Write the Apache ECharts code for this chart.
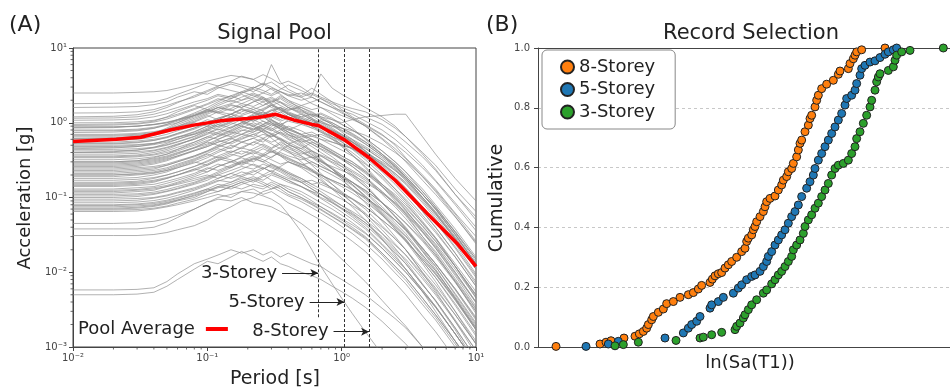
<!DOCTYPE html>
<html><head><meta charset="utf-8">
<script src="https://cdn.jsdelivr.net/npm/echarts@6/dist/echarts.min.js"></script>
<style>html,body{margin:0;padding:0;background:#fff}#c{width:950px;height:391px}</style>
</head><body><div id="c"></div>
<script>
// ---------------- DATA ----------------
// Panel A: response spectra of the signal pool (period [s] -> Sa [g])
const periods = [0.01,0.02,0.03,0.04,0.05,0.06,0.08,0.1,0.12,0.15,0.18,0.22,0.26,0.3,0.35,0.4,0.5,0.6,0.7,0.85,1.0,1.2,1.5,2.0,2.5,3.0,4.0,5.0,7.0,10.0];
const poolSpectra = [
[2.5,2.5,2.55,2.6,2.7,2.9,3.3,3.6,3.9,4.3, 4.1,3.8,4.4,3.9,3.3,3.6,3.0,2.4,2.1,1.7, 1.4,1.15,0.9,0.6,0.42,0.3,0.17,0.11,0.055,0.025],
[1.8,1.82,1.85,1.9,2.1,2.4,2.9,3.4,3.1,3.6, 4.2,3.8,3.2,3.5,2.9,2.6,2.2,1.8,1.6,1.3, 1.1,0.85,0.6,0.38,0.26,0.18,0.1,0.062,0.028,0.011],
[1.6,1.62,1.65,1.75,1.9,2.2,2.6,2.4,2.9,3.3, 3.0,2.6,3.1,6.0,3.5,2.8,2.3,2.9,2.4,1.9, 1.5,1.2,0.95,0.7,0.5,0.34,0.2,0.13,0.062,0.03],
[1.35,1.36,1.4,1.5,1.7,1.9,2.2,2.6,3.0,2.7, 2.5,2.9,3.4,3.0,2.6,2.3,2.5,2.2,1.9,1.6, 1.45,1.3,1.05,0.8,0.6,0.45,0.27,0.17,0.085,0.04],
[1.15,1.16,1.2,1.3,1.45,1.6,1.9,2.1,2.4,2.2, 2.6,3.0,2.7,2.4,2.8,3.2,2.7,2.3,4.5,2.9, 2.4,2.0,1.6,1.2,0.9,0.65,0.38,0.24,0.11,0.05],
[1.0,1.0,1.03,1.08,1.18,1.3,1.55,1.8,2.1,1.9, 2.2,2.5,2.2,1.9,2.1,1.8,1.5,1.3,1.15,0.95, 0.75,0.6,0.42,0.26,0.17,0.12,0.065,0.04,0.018,0.0075],
[0.95,0.96,0.98,1.05,1.2,1.4,1.7,1.5,1.8,2.1, 2.4,2.0,1.7,1.9,2.3,2.0,1.7,1.9,2.1,1.8, 1.6,1.4,1.2,0.95,0.72,0.55,0.35,0.23,0.11,0.055],
[0.85,0.86,0.9,0.95,1.0,1.1,1.3,1.5,1.4,1.7, 1.6,1.9,2.2,1.8,1.5,1.3,1.1,0.9,0.75,0.6, 0.48,0.37,0.26,0.15,0.1,0.068,0.035,0.021,0.009,0.0035],
[0.78,0.78,0.8,0.85,0.92,1.0,1.2,1.4,1.6,1.5, 1.3,1.5,1.7,2.0,1.7,1.5,1.6,1.4,1.2,1.1, 0.95,0.8,0.62,0.42,0.3,0.22,0.13,0.08,0.038,0.016],
[0.7,0.7,0.72,0.76,0.82,0.9,1.05,1.25,1.1,1.3, 1.55,1.4,1.2,1.35,1.6,1.3,1.05,0.95,1.1,1.0, 0.85,0.7,0.55,0.38,0.27,0.19,0.11,0.07,0.032,0.013],
[0.62,0.62,0.64,0.68,0.75,0.85,1.0,0.9,1.1,1.3, 1.2,1.05,1.2,1.0,0.85,0.75,0.62,0.52,0.44,0.35, 0.28,0.21,0.15,0.085,0.055,0.038,0.019,0.011,0.0045,0.0017],
[0.55,0.55,0.57,0.6,0.65,0.72,0.85,1.0,1.15,1.3, 1.1,1.25,1.4,1.2,1.05,1.15,1.3,1.1,0.95,0.8, 0.7,0.6,0.48,0.34,0.25,0.18,0.1,0.065,0.03,0.013],
[0.5,0.5,0.51,0.53,0.57,0.63,0.75,0.9,0.8,0.95, 1.1,1.25,1.05,0.9,1.0,0.85,0.7,0.6,0.52,0.42, 0.36,0.3,0.22,0.14,0.095,0.067,0.037,0.023,0.01,0.004],
[0.45,0.46,0.48,0.52,0.58,0.65,0.7,0.8,0.95,0.85, 1.0,1.2,1.4,1.25,1.1,1.3,1.15,1.0,0.88,0.75, 0.65,0.55,0.45,0.32,0.24,0.17,0.095,0.06,0.028,0.011],
[0.4,0.4,0.41,0.43,0.47,0.52,0.6,0.7,0.82,0.75, 0.9,0.8,0.95,0.85,0.72,0.65,0.55,0.6,0.5,0.4, 0.33,0.26,0.19,0.11,0.075,0.052,0.028,0.017,0.0075,0.003],
[0.36,0.36,0.37,0.4,0.44,0.5,0.62,0.75,0.68,0.8, 0.95,1.1,0.95,1.05,0.9,0.8,0.95,0.85,0.75,0.65, 0.58,0.5,0.4,0.28,0.2,0.15,0.085,0.052,0.024,0.0095],
[0.32,0.32,0.33,0.35,0.38,0.42,0.5,0.58,0.65,0.75, 0.7,0.85,0.75,0.65,0.75,0.62,0.5,0.42,0.36,0.29, 0.24,0.19,0.14,0.085,0.057,0.04,0.021,0.013,0.0058,0.0023],
[0.28,0.28,0.29,0.31,0.34,0.38,0.46,0.55,0.5,0.6, 0.7,0.65,0.8,0.95,0.85,0.75,0.65,0.7,0.6,0.5, 0.43,0.36,0.28,0.19,0.13,0.095,0.054,0.034,0.016,0.0065],
[0.25,0.25,0.26,0.28,0.31,0.35,0.42,0.48,0.55,0.62, 0.55,0.5,0.6,0.52,0.45,0.4,0.34,0.28,0.24,0.2, 0.17,0.13,0.095,0.058,0.038,0.027,0.014,0.0085,0.0038,0.0015],
[0.22,0.22,0.23,0.24,0.27,0.3,0.36,0.42,0.5,0.45, 0.55,0.62,0.55,0.68,0.6,0.52,0.6,0.52,0.45,0.38, 0.33,0.28,0.22,0.15,0.11,0.08,0.046,0.029,0.013,0.0055],
[0.2,0.2,0.21,0.22,0.24,0.27,0.32,0.38,0.34,0.4, 0.46,0.42,0.48,0.42,0.36,0.3,0.25,0.2,0.17,0.13, 0.11,0.085,0.062,0.037,0.024,0.017,0.0088,0.0053,0.0023,0.0009],
[0.18,0.18,0.185,0.2,0.22,0.25,0.3,0.27,0.32,0.38, 0.35,0.42,0.38,0.45,0.52,0.45,0.38,0.42,0.37,0.32, 0.28,0.23,0.18,0.12,0.085,0.062,0.035,0.022,0.01,0.004],
[0.16,0.16,0.165,0.18,0.2,0.22,0.26,0.3,0.35,0.32, 0.28,0.33,0.3,0.26,0.23,0.2,0.16,0.13,0.11,0.085, 0.07,0.055,0.04,0.024,0.016,0.011,0.0058,0.0035,0.0015,0.0006],
[0.145,0.145,0.15,0.16,0.18,0.2,0.24,0.22,0.26,0.3, 0.34,0.3,0.36,0.32,0.28,0.3,0.26,0.22,0.2,0.17, 0.15,0.125,0.1,0.068,0.05,0.037,0.021,0.013,0.006,0.0024],
[0.13,0.13,0.135,0.14,0.155,0.17,0.2,0.24,0.28,0.25, 0.3,0.27,0.24,0.28,0.25,0.22,0.18,0.15,0.13,0.11, 0.095,0.078,0.06,0.04,0.028,0.02,0.011,0.0068,0.003,0.0012],
[0.115,0.115,0.12,0.125,0.14,0.155,0.18,0.2,0.18,0.21, 0.24,0.28,0.25,0.22,0.26,0.3,0.26,0.23,0.2,0.17, 0.15,0.13,0.1,0.07,0.05,0.037,0.021,0.013,0.006,0.0025],
[0.1,0.1,0.103,0.11,0.12,0.13,0.15,0.17,0.2,0.18, 0.2,0.23,0.2,0.17,0.15,0.13,0.11,0.09,0.075,0.06, 0.05,0.04,0.03,0.018,0.012,0.0085,0.0045,0.0027,0.0012,0.0005],
[0.09,0.09,0.092,0.098,0.105,0.115,0.13,0.15,0.17,0.16, 0.19,0.17,0.2,0.23,0.2,0.18,0.16,0.17,0.15,0.13, 0.11,0.095,0.075,0.05,0.036,0.027,0.015,0.0095,0.0044,0.0018],
[0.08,0.08,0.082,0.086,0.092,0.1,0.115,0.13,0.12,0.14, 0.16,0.14,0.13,0.15,0.13,0.11,0.095,0.08,0.068,0.055, 0.046,0.037,0.028,0.017,0.011,0.0078,0.0041,0.0025,0.0011,0.00045],
[0.07,0.07,0.072,0.076,0.082,0.09,0.1,0.12,0.14,0.13, 0.15,0.17,0.15,0.13,0.14,0.12,0.1,0.085,0.075,0.062, 0.052,0.043,0.033,0.021,0.014,0.01,0.0055,0.0034,0.0015,0.0006],
[0.065,0.065,0.066,0.07,0.075,0.08,0.09,0.1,0.11,0.1, 0.12,0.13,0.11,0.12,0.1,0.085,0.07,0.058,0.05,0.04, 0.033,0.026,0.019,0.011,0.0072,0.005,0.0026,0.0016,0.0007,0.0003],
[0.038,0.038,0.038,0.04,0.046,0.054,0.07,0.085,0.1,0.11, 0.12,0.115,0.105,0.095,0.08,0.06,0.035,0.02,0.012,0.007, 0.0045,0.0028,0.0016,0.0008,0.0005,0.0003,0.00015,0.00008,0.00003,0.00001],
[0.031,0.031,0.031,0.032,0.034,0.037,0.042,0.05,0.062,0.075, 0.09,0.1,0.12,0.13,0.15,0.14,0.12,0.1,0.085,0.07, 0.058,0.046,0.034,0.021,0.014,0.01,0.0055,0.0034,0.0015,0.0006],
[0.0058,0.0058,0.0059,0.0062,0.0075,0.0095,0.013,0.015,0.017,0.02, 0.018,0.02,0.017,0.019,0.016,0.018,0.015,0.013,0.012,0.0095, 0.008,0.0065,0.005,0.0033,0.0024,0.0018,0.001,0.0006,0.0003,0.0001],
[0.005,0.005,0.0051,0.0054,0.0065,0.008,0.011,0.014,0.013,0.016, 0.019,0.016,0.014,0.016,0.013,0.012,0.01,0.009,0.008,0.0065, 0.0055,0.0045,0.0034,0.0022,0.0015,0.0011,0.0006,0.00035,0.00015,0.00006],
[0.3,0.3,0.31,0.33,0.36,0.4,0.46,0.52,0.6,0.7, 0.8,0.75,0.9,1.0,0.9,1.1,1.0,1.2,1.3,1.1, 1.0,1.1,1.2,1.25,1.3,1.3,0.65,0.38,0.18,0.09],
[0.6,0.61,0.65,0.72,0.85,1.0,1.25,1.5,1.35,1.2, 1.05,0.9,0.75,0.62,0.5,0.42,0.3,0.23,0.18,0.13, 0.1,0.075,0.05,0.028,0.017,0.011,0.0055,0.003,0.0012,0.0004],
[0.74,0.75,0.78,0.84,0.95,1.1,1.35,1.6,1.9,2.3, 2.0,2.4,2.1,1.7,1.9,1.6,1.3,1.1,0.9,0.7, 0.56,0.44,0.32,0.2,0.13,0.09,0.048,0.029,0.012,0.0045],
[0.42,0.42,0.43,0.46,0.5,0.55,0.65,0.78,0.9,1.05, 1.2,1.1,1.3,1.5,1.35,1.6,1.4,1.25,1.35,1.15, 0.95,0.8,0.62,0.42,0.3,0.22,0.12,0.075,0.034,0.014],
[0.3,0.3,0.31,0.34,0.38,0.44,0.55,0.65,0.6,0.72, 0.85,1.0,0.9,0.8,0.7,0.6,0.48,0.38,0.31,0.24, 0.19,0.15,0.105,0.062,0.04,0.028,0.014,0.0085,0.0036,0.0014],
[0.24,0.24,0.25,0.26,0.28,0.31,0.36,0.42,0.48,0.55, 0.65,0.75,0.85,0.78,0.9,0.8,0.7,0.75,0.65,0.55, 0.5,0.45,0.38,0.28,0.21,0.16,0.095,0.06,0.028,0.012],
[0.19,0.19,0.2,0.21,0.23,0.26,0.31,0.36,0.42,0.5, 0.45,0.55,0.62,0.7,0.6,0.52,0.42,0.34,0.28,0.22, 0.18,0.145,0.105,0.065,0.043,0.031,0.016,0.0098,0.0043,0.0017],
[0.15,0.15,0.155,0.165,0.18,0.2,0.23,0.27,0.31,0.36, 0.42,0.38,0.45,0.4,0.47,0.42,0.36,0.3,0.26,0.22, 0.19,0.16,0.125,0.085,0.062,0.046,0.027,0.017,0.0078,0.0032],
[0.12,0.12,0.125,0.13,0.14,0.15,0.17,0.19,0.22,0.26, 0.3,0.34,0.3,0.35,0.4,0.36,0.32,0.35,0.3,0.26, 0.23,0.2,0.16,0.115,0.085,0.064,0.038,0.024,0.011,0.0046],
[0.095,0.095,0.097,0.1,0.108,0.118,0.135,0.155,0.18,0.21, 0.19,0.22,0.25,0.22,0.19,0.17,0.14,0.115,0.097,0.078, 0.064,0.051,0.038,0.023,0.015,0.011,0.0058,0.0035,0.0015,0.0006],
[0.075,0.075,0.077,0.08,0.086,0.093,0.105,0.12,0.135,0.15, 0.17,0.19,0.17,0.2,0.18,0.16,0.14,0.12,0.1,0.085, 0.072,0.06,0.046,0.03,0.02,0.015,0.0082,0.005,0.0022,0.0009],
[0.068,0.068,0.069,0.072,0.077,0.084,0.095,0.11,0.12,0.14, 0.13,0.15,0.14,0.16,0.14,0.12,0.1,0.082,0.07,0.056, 0.047,0.038,0.029,0.018,0.012,0.0085,0.0045,0.0027,0.0012,0.0005],
[0.11,0.11,0.112,0.118,0.128,0.14,0.16,0.185,0.21,0.25, 0.29,0.33,0.38,0.34,0.42,0.5,0.45,0.55,0.48,0.4, 0.34,0.28,0.21,0.14,0.1,0.072,0.041,0.026,0.012,0.0048],
[0.87,0.88,0.9,0.95,1.02,1.1,1.25,1.4,1.6,1.8, 2.0,2.2,2.5,2.3,2.6,2.4,2.2,2.5,2.2,1.9, 1.7,1.55,1.4,1.1,0.85,0.65,0.4,0.27,0.13,0.065],
[1.2,1.22,1.28,1.4,1.6,1.85,2.3,2.7,3.1,3.5, 3.2,2.9,3.3,2.8,2.4,2.0,1.5,1.15,0.9,0.65, 0.5,0.37,0.25,0.14,0.09,0.06,0.03,0.018,0.0075,0.0028],
[0.52,0.52,0.54,0.58,0.64,0.72,0.85,1.0,1.15,1.3, 1.5,1.35,1.2,1.0,0.82,0.7,0.52,0.4,0.32,0.24, 0.19,0.15,0.1,0.06,0.038,0.026,0.013,0.0075,0.003,0.0011],
[0.045,0.045,0.046,0.048,0.052,0.058,0.07,0.085,0.095,0.09, 0.1,0.085,0.08,0.075,0.065,0.058,0.045,0.035,0.028,0.02, 0.015,0.011,0.0075,0.0042,0.0027,0.0019,0.001,0.0006,0.00025,0.0001],
[0.88,0.88,0.9,0.94,1.0,1.08,1.25,1.45,1.7,2.0, 1.8,2.1,1.9,1.6,1.45,1.3,1.1,0.95,0.8,0.65, 0.55,0.45,0.34,0.22,0.15,0.105,0.058,0.036,0.016,0.0065],
[0.66,0.66,0.68,0.72,0.8,0.9,1.1,1.3,1.5,1.75, 1.6,1.9,2.1,1.8,2.2,1.9,1.6,1.35,1.2,1.0, 0.85,0.72,0.56,0.38,0.28,0.2,0.12,0.075,0.035,0.015],
[0.58,0.58,0.6,0.64,0.7,0.78,0.92,1.1,1.0,1.2, 1.4,1.6,1.45,1.7,1.5,1.3,1.05,0.9,0.78,0.62, 0.5,0.4,0.29,0.18,0.12,0.085,0.045,0.028,0.012,0.005],
[0.48,0.48,0.5,0.53,0.58,0.64,0.76,0.9,1.05,1.2, 1.1,1.3,1.5,1.7,1.5,1.35,1.2,1.3,1.15,0.95, 0.8,0.68,0.52,0.36,0.26,0.19,0.11,0.07,0.032,0.013],
[0.44,0.44,0.45,0.47,0.51,0.56,0.66,0.8,0.72,0.85, 1.0,0.9,1.05,0.95,0.82,0.7,0.58,0.48,0.4,0.32, 0.26,0.2,0.14,0.085,0.056,0.039,0.02,0.012,0.005,0.002],
[0.38,0.38,0.39,0.42,0.46,0.51,0.6,0.72,0.85,1.0, 0.9,1.15,1.3,1.15,1.4,1.2,1.0,0.85,0.9,0.78, 0.66,0.55,0.42,0.29,0.21,0.155,0.09,0.056,0.026,0.011],
[0.34,0.34,0.35,0.37,0.4,0.44,0.52,0.62,0.72,0.65, 0.78,0.9,0.8,0.72,0.62,0.55,0.45,0.37,0.31,0.25, 0.2,0.16,0.115,0.07,0.046,0.033,0.017,0.0105,0.0045,0.0018],
[0.29,0.29,0.3,0.32,0.35,0.39,0.47,0.56,0.66,0.78, 0.9,0.82,0.95,1.1,0.95,0.85,0.7,0.6,0.52,0.43, 0.36,0.3,0.23,0.15,0.105,0.075,0.042,0.026,0.012,0.005],
[0.26,0.26,0.27,0.29,0.32,0.36,0.43,0.5,0.58,0.52, 0.6,0.7,0.62,0.55,0.62,0.52,0.42,0.35,0.3,0.24, 0.2,0.16,0.12,0.075,0.05,0.036,0.019,0.012,0.0052,0.0021],
[0.23,0.23,0.24,0.25,0.27,0.3,0.35,0.41,0.47,0.55, 0.62,0.7,0.78,0.7,0.8,0.9,0.78,0.66,0.7,0.6, 0.52,0.45,0.36,0.25,0.18,0.13,0.075,0.047,0.022,0.009],
[0.21,0.21,0.22,0.23,0.25,0.28,0.33,0.39,0.45,0.4, 0.47,0.55,0.5,0.44,0.38,0.34,0.28,0.23,0.19,0.15, 0.12,0.095,0.07,0.042,0.028,0.02,0.01,0.0062,0.0027,0.0011],
[0.17,0.17,0.175,0.185,0.2,0.22,0.26,0.31,0.36,0.42, 0.38,0.45,0.52,0.46,0.55,0.48,0.4,0.34,0.36,0.3, 0.26,0.22,0.17,0.115,0.082,0.06,0.034,0.021,0.0095,0.0039],
[0.14,0.14,0.145,0.15,0.165,0.18,0.21,0.25,0.23,0.27, 0.31,0.36,0.32,0.28,0.24,0.21,0.17,0.14,0.12,0.095, 0.078,0.062,0.046,0.028,0.019,0.013,0.0068,0.0042,0.0018,0.0007],
[0.125,0.125,0.128,0.135,0.145,0.16,0.19,0.22,0.26,0.3, 0.27,0.32,0.36,0.41,0.36,0.32,0.27,0.3,0.26,0.22, 0.19,0.16,0.125,0.085,0.062,0.045,0.026,0.016,0.0073,0.003],
[0.105,0.105,0.108,0.113,0.122,0.133,0.155,0.18,0.2,0.23, 0.26,0.24,0.28,0.25,0.22,0.19,0.16,0.13,0.11,0.088, 0.072,0.058,0.043,0.027,0.018,0.013,0.0068,0.0042,0.0018,0.0007],
[0.085,0.085,0.087,0.091,0.098,0.107,0.125,0.145,0.165,0.19, 0.22,0.2,0.24,0.27,0.24,0.21,0.18,0.15,0.16,0.135, 0.115,0.097,0.075,0.05,0.036,0.026,0.015,0.0093,0.0042,0.0017],
[0.078,0.078,0.08,0.083,0.089,0.097,0.112,0.13,0.15,0.14, 0.16,0.18,0.16,0.14,0.12,0.105,0.088,0.073,0.062,0.05, 0.041,0.033,0.024,0.015,0.0098,0.007,0.0037,0.0023,0.001,0.0004],
[0.072,0.072,0.074,0.078,0.084,0.092,0.108,0.125,0.14,0.16, 0.18,0.16,0.19,0.21,0.19,0.17,0.14,0.12,0.11,0.092, 0.078,0.065,0.05,0.033,0.023,0.017,0.0095,0.0059,0.0027,0.0011],
[0.92,0.93,0.96,1.02,1.12,1.25,1.5,1.75,2.0,2.3, 2.6,2.3,2.0,2.2,1.9,1.7,1.45,1.25,1.05,0.85, 0.7,0.55,0.4,0.25,0.17,0.12,0.065,0.04,0.018,0.007],
[1.08,1.09,1.12,1.2,1.32,1.48,1.75,2.0,2.3,2.1, 2.5,2.8,2.5,2.9,2.6,2.3,2.0,2.2,1.9,1.6, 1.35,1.15,0.9,0.62,0.45,0.33,0.19,0.12,0.056,0.024],
[0.8,0.8,0.82,0.87,0.95,1.05,1.25,1.45,1.35,1.55, 1.8,1.65,1.9,2.1,1.85,1.6,1.35,1.15,1.0,0.82, 0.68,0.56,0.42,0.27,0.19,0.135,0.075,0.047,0.021,0.0085],
[0.68,0.68,0.7,0.74,0.8,0.88,1.02,1.2,1.4,1.3, 1.5,1.35,1.55,1.75,1.55,1.35,1.15,0.98,1.05,0.9, 0.78,0.66,0.52,0.36,0.26,0.19,0.11,0.07,0.032,0.013],
[0.53,0.53,0.55,0.58,0.63,0.7,0.82,0.97,0.88,1.02, 1.15,1.05,1.2,1.08,0.95,0.82,0.68,0.56,0.48,0.39, 0.32,0.26,0.19,0.12,0.08,0.057,0.03,0.019,0.0082,0.0033],
[0.47,0.47,0.48,0.51,0.55,0.6,0.7,0.82,0.95,1.1, 1.25,1.4,1.25,1.45,1.6,1.4,1.2,1.05,0.92,0.78, 0.68,0.58,0.46,0.32,0.23,0.17,0.1,0.063,0.029,0.012],
[0.27,0.27,0.28,0.3,0.33,0.36,0.42,0.48,0.55,0.63, 0.7,0.8,0.9,0.82,0.95,1.05,0.95,1.1,1.0,0.9, 0.85,0.78,0.68,0.52,0.4,0.31,0.19,0.125,0.06,0.026],
[0.35,0.35,0.36,0.38,0.42,0.47,0.55,0.65,0.75,0.88, 1.0,1.15,1.3,1.45,1.6,1.45,1.7,1.5,1.6,1.4, 1.25,1.1,0.92,0.68,0.52,0.4,0.25,0.165,0.08,0.036],
[0.62,0.63,0.66,0.72,0.82,0.95,1.15,1.35,1.6,1.45, 1.7,1.5,1.3,1.1,0.9,0.75,0.55,0.42,0.33,0.24, 0.18,0.13,0.085,0.048,0.03,0.02,0.0098,0.0056,0.0022,0.0008],
[0.2,0.2,0.205,0.215,0.23,0.25,0.29,0.34,0.4,0.47, 0.55,0.62,0.7,0.65,0.75,0.68,0.62,0.66,0.6,0.55, 0.5,0.46,0.4,0.3,0.23,0.18,0.11,0.072,0.035,0.015],
[0.155,0.155,0.16,0.17,0.185,0.2,0.24,0.28,0.33,0.3, 0.35,0.4,0.36,0.42,0.37,0.33,0.28,0.24,0.2,0.165, 0.14,0.115,0.088,0.058,0.041,0.03,0.017,0.0105,0.0047,0.0019],
[0.4,0.41,0.43,0.47,0.53,0.6,0.72,0.85,1.0,1.15, 1.05,0.95,0.82,0.7,0.58,0.48,0.36,0.27,0.21,0.15, 0.115,0.085,0.058,0.033,0.021,0.014,0.007,0.0041,0.0017,0.0006]
];
// Pool average spectrum
const avgPeriods = [0.01,0.021,0.032,0.053,0.079,0.125,0.2,0.26,0.32,0.44,0.6,0.67,1.05,1.6,2.5,4.3,7.2,10];
const avgAccel   = [0.56,0.6,0.64,0.8,0.93,1.06,1.14,1.2,1.3,1.09,0.95,0.92,0.59,0.34,0.17,0.062,0.0245,0.012];
// Fundamental periods of the buildings
const storeyNames = ['3-Storey','5-Storey','8-Storey'];
const storeyT1 = [0.67,1.05,1.6];

// Panel B: cumulative distributions of ln(Sa(T1))
const lnSa8 = [-3.86,-3.2,-3.11,-3.035,-2.84,-2.675,-2.61,-2.55,-2.5,-2.475,-2.425,-2.4,-2.325,-2.25,-2.2,-2.1,-2.0,-1.875,-1.8,-1.725,-1.675,-1.55,-1.515,-1.475,-1.425,-1.375,-1.325,-1.275,-1.225,-1.15,-1.075,-1.025,-1.0,-0.975,-0.925,-0.9,-0.875,-0.85,-0.8,-0.75,-0.725,-0.7,-0.65,-0.575,-0.525,-0.475,-0.45,-0.4,-0.375,-0.325,-0.3,-0.25,-0.225,-0.2,-0.175,-0.125,-0.075,-0.05,-0.025,0.025,0.05,0.075,0.125,0.2,0.3,0.375,0.4,0.525,0.55,0.6,0.625,0.65,0.725,1.075];
const cdf8  = [0.002,0.01,0.016,0.021,0.03,0.036,0.044,0.052,0.063,0.075,0.091,0.102,0.116,0.127,0.145,0.152,0.166,0.175,0.182,0.194,0.206,0.216,0.227,0.238,0.245,0.249,0.264,0.275,0.286,0.3,0.319,0.33,0.353,0.364,0.375,0.392,0.403,0.419,0.436,0.453,0.469,0.486,0.497,0.505,0.525,0.542,0.558,0.57,0.586,0.597,0.614,0.636,0.659,0.681,0.692,0.72,0.742,0.764,0.775,0.803,0.825,0.842,0.864,0.879,0.892,0.912,0.923,0.931,0.948,0.964,0.976,0.987,0.994,1.0];
const lnSa5 = [-3.41,-3.075,-2.925,-2.225,-1.95,-1.875,-1.825,-1.75,-1.7,-1.55,-1.525,-1.425,-1.35,-1.2,-1.125,-1.075,-1.0,-0.925,-0.875,-0.8,-0.75,-0.7,-0.675,-0.625,-0.575,-0.525,-0.475,-0.425,-0.375,-0.325,-0.275,-0.225,-0.175,-0.1,-0.05,0.0,0.025,0.075,0.125,0.175,0.225,0.275,0.325,0.375,0.425,0.475,0.5,0.575,0.625,0.65,0.7,0.725,0.775,0.85,0.925,1.0,1.075,1.125,1.2,1.25];
const cdf5  = [0.002,0.01,0.019,0.03,0.047,0.063,0.075,0.086,0.102,0.13,0.141,0.152,0.166,0.18,0.197,0.208,0.225,0.236,0.241,0.253,0.269,0.286,0.303,0.319,0.341,0.358,0.375,0.392,0.414,0.436,0.453,0.475,0.503,0.531,0.553,0.575,0.597,0.625,0.647,0.67,0.692,0.714,0.736,0.759,0.781,0.809,0.831,0.842,0.859,0.881,0.909,0.931,0.942,0.953,0.957,0.968,0.979,0.987,0.994,1.0];
const lnSa3 = [-2.975,-2.85,-2.625,-2.06,-1.7,-1.65,-1.525,-1.375,-1.175,-1.15,-1.1,-1.05,-1.025,-0.975,-0.925,-0.85,-0.75,-0.7,-0.625,-0.575,-0.525,-0.475,-0.425,-0.375,-0.325,-0.3,-0.25,-0.2,-0.15,-0.125,-0.075,-0.025,0.025,0.075,0.125,0.175,0.225,0.275,0.325,0.375,0.45,0.525,0.575,0.625,0.65,0.7,0.75,0.8,0.85,0.875,0.925,0.95,0.975,1.0,1.125,1.2,1.225,1.25,1.325,1.45,1.95];
const cdf3  = [0.004,0.008,0.016,0.022,0.03,0.033,0.041,0.049,0.058,0.069,0.08,0.097,0.108,0.125,0.141,0.158,0.18,0.191,0.211,0.225,0.241,0.253,0.269,0.286,0.303,0.325,0.341,0.358,0.38,0.403,0.425,0.442,0.464,0.481,0.503,0.525,0.547,0.575,0.597,0.608,0.614,0.625,0.647,0.67,0.697,0.72,0.748,0.775,0.803,0.825,0.859,0.887,0.903,0.914,0.925,0.937,0.959,0.976,0.987,0.992,1.0];

// ---------------- CHART ----------------
const FONT = 'DejaVu Sans';
const TXT = '#222';
const AX = '#444';
const SUP = {'-':'\u207B','0':'\u2070','1':'\u00B9','2':'\u00B2','3':'\u00B3'};
const pow10Label = v => '10' + String(Math.round(Math.log10(v))).split('').map(c => SUP[c]).join('');

const minorX = []; [0.01,0.1,1].forEach(d => { for (let k = 2; k <= 9; k++) minorX.push(d * k); });
const minorY = []; [0.001,0.01,0.1,1].forEach(d => { for (let k = 2; k <= 9; k++) minorY.push(d * k); });

// annotation placement (arrow start period, arrow height, dashed-line floor)
const arrowFromT = [0.36, 0.578, 0.87];
const arrowAt = [0.0098, 0.004, 0.0016];
const dashFloor = [0.0025, 0.001, 0.001];

const markData = [];
storeyT1.forEach((t, i) => {
  markData.push([{coord:[t, dashFloor[i]], lineStyle:{type:[3,2], color:'#333', width:1}, label:{show:false}}, {coord:[t, 10]}]);
});
storeyT1.forEach((t, i) => {
  markData.push([{coord:[arrowFromT[i], arrowAt[i]], lineStyle:{type:'solid', color:'#222', width:1},
    label:{show:true, position:'start', distance:5, formatter:storeyNames[i], fontSize:18, color:TXT, fontFamily:FONT}},
    {coord:[t, arrowAt[i]], symbol:'arrow', symbolSize:[6,8]}]);
});

const series = poolSpectra.map(vals => ({
  type:'line', xAxisIndex:0, yAxisIndex:0, silent:true, symbol:'none',
  data: periods.map((t, i) => [t, vals[i]]),
  lineStyle:{color:'rgba(140,140,140,0.68)', width:1}, z:2
}));
series.push({
  name:'Pool Average', type:'line', xAxisIndex:0, yAxisIndex:0, silent:true, symbol:'none', z:5,
  data: avgPeriods.map((t, i) => [t, avgAccel[i]]),
  lineStyle:{color:'#ff0000', width:3.5}, itemStyle:{color:'#ff0000'},
  markLine:{silent:true, symbol:['none','none'], animation:false, data:markData}
});
series.push({
  type:'custom', xAxisIndex:0, yAxisIndex:0, silent:true, z:10, clip:false, data:[[0.1,0.1]],
  renderItem:(p, api) => {
    const ch = [];
    minorX.forEach(v => { const q = api.coord([v, 0.001]); ch.push({type:'line', shape:{x1:q[0], y1:q[1], x2:q[0], y2:q[1] + 2.5}, style:{stroke:AX, lineWidth:0.8}}); });
    minorY.forEach(v => { const q = api.coord([0.01, v]); ch.push({type:'line', shape:{x1:q[0] - 2.5, y1:q[1], x2:q[0], y2:q[1]}, style:{stroke:AX, lineWidth:0.8}}); });
    return {type:'group', children:ch};
  }
});
const scat = (name, xs, ys, color) => ({
  name, type:'scatter', xAxisIndex:1, yAxisIndex:1, symbolSize:8, z:3,
  data: xs.map((x, i) => [x, ys[i]]),
  itemStyle:{color, borderColor:'#222', borderWidth:1, opacity:1}
});
series.push(scat('8-Storey', lnSa8, cdf8, '#ff7f0e'));
series.push(scat('5-Storey', lnSa5, cdf5, '#1f77b4'));
series.push(scat('3-Storey', lnSa3, cdf3, '#2ca02c'));

const txt = (text, x, y, size, rot) => ({type:'text', x, y, rotation:rot || 0, z:20,
  style:{text, fill:TXT, font:size + 'px "' + FONT + '"', textAlign:'center', textVerticalAlign:'middle', align:'center', verticalAlign:'middle'}});

const option = {
  animation:false,
  backgroundColor:'#fff',
  textStyle:{fontFamily:FONT},
  grid:[
    {left:73, top:48, width:403, height:299, show:true, borderColor:AX, borderWidth:1, backgroundColor:'transparent'},
    // right panel: its right spine lies beyond the page edge, so only left/bottom/top spines are drawn
    {left:538, top:48, width:412, height:299, show:false}
  ],
  xAxis:[
    {type:'log', logBase:10, gridIndex:0, min:0.01, max:10,
     axisLine:{show:true, onZero:false, lineStyle:{color:AX}}, axisTick:{show:true, length:4, lineStyle:{color:AX}},
     axisLabel:{formatter:pow10Label, fontSize:10, color:AX, margin:6, showMaxLabel:true, showMinLabel:true},
     splitLine:{show:false}},
    {type:'value', gridIndex:1, min:-4.13, max:2.05, position:'bottom',
     axisLine:{show:true, onZero:false, lineStyle:{color:AX}}, axisTick:{show:false}, axisLabel:{show:false}, splitLine:{show:false}},
    {type:'value', gridIndex:1, min:-4.13, max:2.05, position:'top',
     axisLine:{show:true, onZero:false, lineStyle:{color:AX}}, axisTick:{show:false}, axisLabel:{show:false}, splitLine:{show:false}}
  ],
  yAxis:[
    {type:'log', logBase:10, gridIndex:0, min:0.001, max:10,
     axisLine:{show:true, onZero:false, lineStyle:{color:AX}}, axisTick:{show:true, length:4, lineStyle:{color:AX}},
     axisLabel:{formatter:pow10Label, fontSize:10, color:AX, margin:6, showMaxLabel:true, showMinLabel:true},
     splitLine:{show:false}},
    {type:'value', gridIndex:1, min:0, max:1, interval:0.2, position:'left',
     axisLine:{show:true, onZero:false, lineStyle:{color:AX}}, axisTick:{show:true, length:4, lineStyle:{color:AX}},
     axisLabel:{formatter:v => v.toFixed(1), fontSize:10, color:AX, margin:8},
     splitLine:{show:true, lineStyle:{type:[3,3], color:'#c8c8c8', width:1}}}
  ],
  legend:[
    {data:['Pool Average'], left:78, top:320, padding:0, align:'right', icon:'rect', itemWidth:22, itemHeight:4,
     selectedMode:false, formatter:'{a|{name}}',
     textStyle:{fontSize:18, color:TXT, fontFamily:FONT, rich:{a:{fontSize:18, color:TXT, fontFamily:FONT, padding:[0,6,0,0]}}}},
    {data:['8-Storey','5-Storey','3-Storey'], orient:'vertical', left:542, top:50, padding:[8,20,8,18], itemGap:4.5,
     icon:'circle', itemWidth:13, itemHeight:13, selectedMode:false,
     borderColor:'#888', borderWidth:1, borderRadius:5, backgroundColor:'#fff',
     textStyle:{fontSize:18, color:TXT, fontFamily:FONT}}
  ],
  graphic:[
    {type:'text', x:9, y:25, z:20, style:{text:'(A)', fill:TXT, font:'22px "DejaVu Sans"', textAlign:'left', textVerticalAlign:'middle', align:'left', verticalAlign:'middle'}},
    {type:'text', x:486, y:25, z:20, style:{text:'(B)', fill:TXT, font:'22px "DejaVu Sans"', textAlign:'left', textVerticalAlign:'middle', align:'left', verticalAlign:'middle'}},
    txt('Signal Pool', 274.5, 33.5, 21),
    txt('Record Selection', 751, 33.5, 21),
    txt('Acceleration [g]', 25, 198, 18, Math.PI / 2),
    txt('Period [s]', 275, 379, 19),
    txt('Cumulative', 497, 198, 19, Math.PI / 2),
    txt('ln(Sa(T1))', 750, 363, 18)
  ],
  series
};
const chart = echarts.init(document.getElementById('c'), null, {renderer:'canvas'});
chart.setOption(option);
</script>
</body></html>
